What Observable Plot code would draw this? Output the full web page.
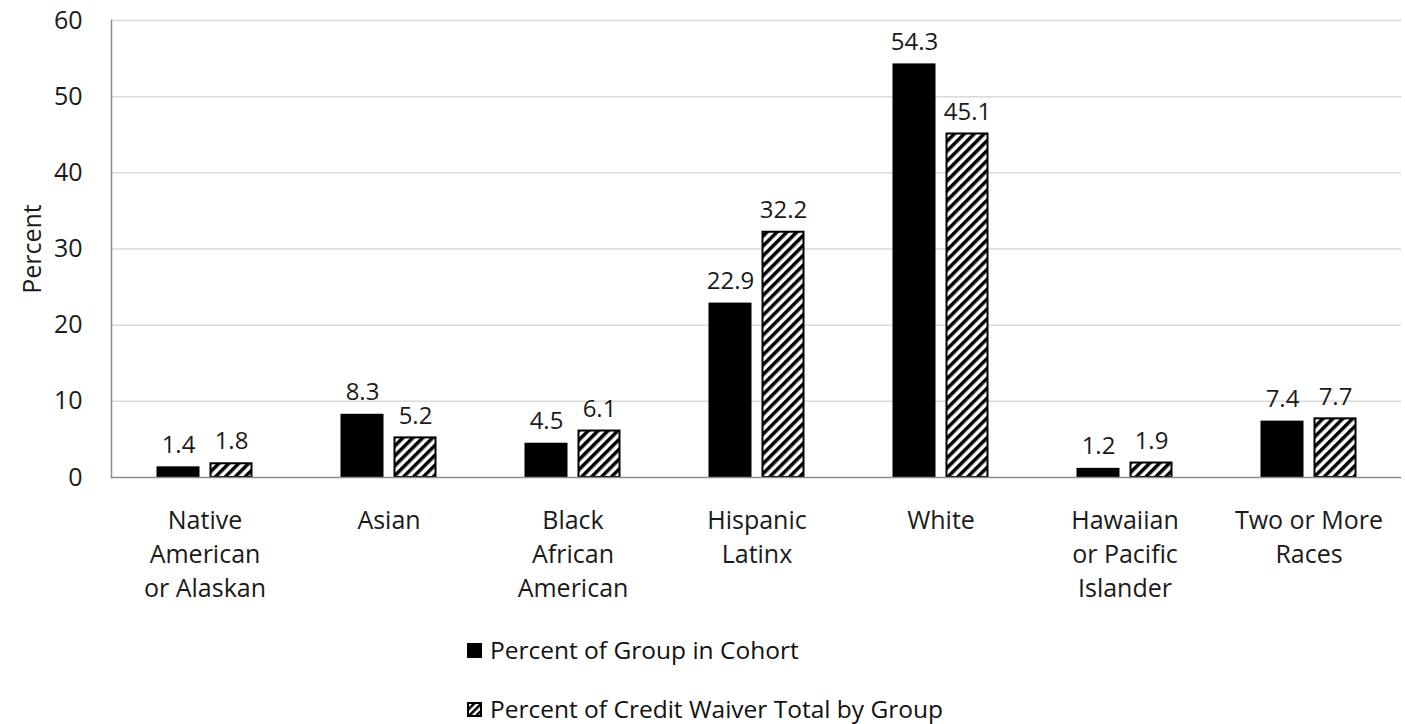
<!DOCTYPE html>
<html><head><meta charset="utf-8">
<script src="https://cdn.jsdelivr.net/npm/d3@7"></script>
<script src="https://cdn.jsdelivr.net/npm/@observablehq/plot@0.6"></script>
<style>
body{margin:0;background:#fff;font-family:"Open Sans",sans-serif;}
#wrap{position:relative;width:1405px;height:724px;}
#chart{position:absolute;left:0;top:0;}
.legend{position:absolute;left:467px;font-size:24.5px;color:#111;display:flex;align-items:center;line-height:1.1;}
.legend svg{margin-right:8px;}
</style></head>
<body>
<div id="wrap"><div id="chart"></div>
<div class="legend" style="top:637px"><svg width="15" height="15"><rect width="15" height="15" fill="#000"/></svg>Percent of Group in Cohort</div>
<div class="legend" style="top:696px"><svg width="15" height="15"><defs><pattern id="lh" patternUnits="userSpaceOnUse" width="5" height="5" patternTransform="rotate(45)"><rect width="2.5" height="5" fill="#000"/></pattern></defs><rect x="1" y="1" width="13" height="13" fill="#fff"/><rect x="1" y="1" width="13" height="13" fill="url(#lh)" stroke="#000" stroke-width="2"/></svg>Percent of Credit Waiver Total by Group</div>
</div>
<script>
const categories = ["Native American or Alaskan","Asian","Black African American","Hispanic Latinx","White","Hawaiian or Pacific Islander","Two or More Races"];
const categoryLines = ["Native\nAmerican\nor Alaskan","Asian","Black\nAfrican\nAmerican","Hispanic\nLatinx","White","Hawaiian\nor Pacific\nIslander","Two or More\nRaces"];
const cohortPct = [1.4, 8.3, 4.5, 22.9, 54.3, 1.2, 7.4];
const waiverPct = [1.8, 5.2, 6.1, 32.2, 45.1, 1.9, 7.7];
const yTicks = [0,10,20,30,40,50,60];

const cohort = categories.map((c,i)=>({cat:c, v:cohortPct[i]}));
const waiver = categories.map((c,i)=>({cat:c, v:waiverPct[i]}));
const lineOf = new Map(categories.map((c,i)=>[c, categoryLines[i]]));

const off = 26.5;
const textColor = "#1a1a1a";
const plot = Plot.plot({
  width: 1405, height: 630,
  marginLeft: 111, marginRight: 4, marginTop: 20, marginBottom: 153,
  style: {fontFamily: "'Open Sans', sans-serif", background: "#fff", overflow: "visible"},
  x: {domain: categories, paddingInner: 0.767, paddingOuter: 0.3835, axis: null},
  y: {domain: [0, 60], axis: null},
  marks: [
    Plot.ruleY(yTicks.filter(d=>d>0), {stroke: "#d9d9d9", strokeWidth: 1.5}),
    Plot.frame({anchor: "left", stroke: "#8c8c8c", strokeWidth: 1.5}),
    Plot.barY(cohort, {x: "cat", y: "v", fill: "#000", dx: -off}),
    Plot.barY(waiver, {x: "cat", y: "v", fill: "url(#hatch)", stroke: "#000", strokeWidth: 2, dx: off, insetLeft: 1, insetRight: 1}),
    Plot.ruleY([0], {stroke: "#8c8c8c", strokeWidth: 1.5}),
    Plot.text(cohort, {x: "cat", y: "v", text: d=>d.v.toFixed(1), dx: -off, dy: -22, fontSize: 24, fill: textColor}),
    Plot.text(waiver, {x: "cat", y: "v", text: d=>d.v.toFixed(1), dx: off, dy: -22, fontSize: 24, fill: textColor}),
    Plot.text(yTicks, {y: d=>d, text: d=>String(d), frameAnchor: "left", textAnchor: "end", dx: -29, fontSize: 25, fill: textColor}),
    Plot.text(categories, {x: d=>d, text: d=>lineOf.get(d), frameAnchor: "bottom", lineAnchor: "top", dy: 27, lineHeight: 1.36, fontSize: 25, fill: textColor}),
    Plot.text(["Percent"], {frameAnchor: "left", textAnchor: "middle", rotate: -90, dx: -79, fontSize: 25, fill: textColor})
  ]
});
const svg = d3.select(plot);
const pat = svg.insert("defs", ":first-child").append("pattern")
  .attr("id", "hatch").attr("patternUnits", "userSpaceOnUse")
  .attr("width", 7).attr("height", 7).attr("patternTransform", "rotate(45)");
pat.append("rect").attr("width", 7).attr("height", 7).attr("fill", "#fff");
pat.append("rect").attr("width", 3.5).attr("height", 7).attr("fill", "#000");
document.getElementById("chart").appendChild(plot);
</script>
</body></html>
